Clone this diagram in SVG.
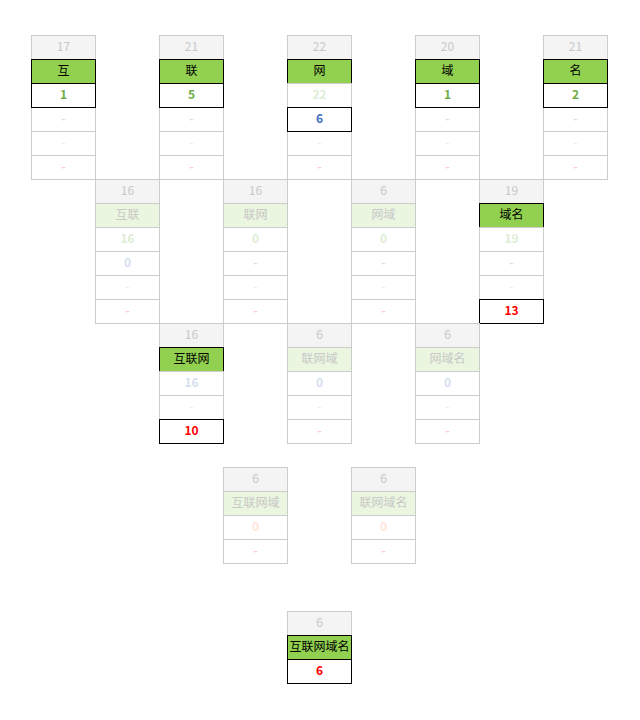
<svg xmlns="http://www.w3.org/2000/svg" width="640" height="720" viewBox="0 0 640 720">
<style>
rect{stroke-width:1}
.hd{fill:#f4f4f4;stroke:#cccccc}
.cl{fill:#ffffff;stroke:#cccccc}
.na{fill:#92d050;stroke:#000000}
.nf{fill:#ebf6e0;stroke:#cccccc}
.ac{fill:none;stroke:#000000}
text{font-family:"Noto Sans CJK SC","Noto Sans",sans-serif;font-size:12px;text-anchor:middle}
.th{fill:#c8c8c8}
.tn{fill:#000000}
.tf{fill:#c8c8c8}
.v{font-weight:bold}
.g{fill:#70ad47}
.b{fill:#4472c4}
.o{fill:#ff8c50}
.r{fill:#ff0000}
.f{opacity:0.22}
</style>
<rect width="640" height="720" fill="#ffffff"/>
<!-- Level 1 -->
<g id="n-hu">
<rect class="hd" x="31.5" y="35.5" width="64" height="24"/>
<rect class="na" x="31.5" y="59.5" width="64" height="24"/>
<rect class="cl" x="31.5" y="83.5" width="64" height="24"/>
<rect class="cl" x="31.5" y="107.5" width="64" height="24"/>
<rect class="cl" x="31.5" y="131.5" width="64" height="24"/>
<rect class="cl" x="31.5" y="155.5" width="64" height="24"/>
<rect class="ac" x="31.5" y="83.5" width="64" height="24"/>
<text class="th" x="63.5" y="51">17</text>
<text class="tn" x="63.5" y="75">互</text>
<text class="v g" x="63.5" y="99">1</text>
<text class="v b f" x="63.5" y="123">-</text>
<text class="v o f" x="63.5" y="147">-</text>
<text class="v r f" x="63.5" y="171">-</text>
</g>
<g id="n-lian">
<rect class="hd" x="159.5" y="35.5" width="64" height="24"/>
<rect class="na" x="159.5" y="59.5" width="64" height="24"/>
<rect class="cl" x="159.5" y="83.5" width="64" height="24"/>
<rect class="cl" x="159.5" y="107.5" width="64" height="24"/>
<rect class="cl" x="159.5" y="131.5" width="64" height="24"/>
<rect class="cl" x="159.5" y="155.5" width="64" height="24"/>
<rect class="ac" x="159.5" y="83.5" width="64" height="24"/>
<text class="th" x="191.5" y="51">21</text>
<text class="tn" x="191.5" y="75">联</text>
<text class="v g" x="191.5" y="99">5</text>
<text class="v b f" x="191.5" y="123">-</text>
<text class="v o f" x="191.5" y="147">-</text>
<text class="v r f" x="191.5" y="171">-</text>
</g>
<g id="n-wang">
<rect class="hd" x="287.5" y="35.5" width="64" height="24"/>
<rect class="na" x="287.5" y="59.5" width="64" height="24"/>
<rect class="cl" x="287.5" y="83.5" width="64" height="24"/>
<rect class="cl" x="287.5" y="107.5" width="64" height="24"/>
<rect class="cl" x="287.5" y="131.5" width="64" height="24"/>
<rect class="cl" x="287.5" y="155.5" width="64" height="24"/>
<rect class="ac" x="287.5" y="107.5" width="64" height="24"/>
<text class="th" x="319.5" y="51">22</text>
<text class="tn" x="319.5" y="75">网</text>
<text class="v g f" x="319.5" y="99">22</text>
<text class="v b" x="319.5" y="123">6</text>
<text class="v o f" x="319.5" y="147">-</text>
<text class="v r f" x="319.5" y="171">-</text>
</g>
<g id="n-yu">
<rect class="hd" x="415.5" y="35.5" width="64" height="24"/>
<rect class="na" x="415.5" y="59.5" width="64" height="24"/>
<rect class="cl" x="415.5" y="83.5" width="64" height="24"/>
<rect class="cl" x="415.5" y="107.5" width="64" height="24"/>
<rect class="cl" x="415.5" y="131.5" width="64" height="24"/>
<rect class="cl" x="415.5" y="155.5" width="64" height="24"/>
<rect class="ac" x="415.5" y="83.5" width="64" height="24"/>
<text class="th" x="447.5" y="51">20</text>
<text class="tn" x="447.5" y="75">域</text>
<text class="v g" x="447.5" y="99">1</text>
<text class="v b f" x="447.5" y="123">-</text>
<text class="v o f" x="447.5" y="147">-</text>
<text class="v r f" x="447.5" y="171">-</text>
</g>
<g id="n-ming">
<rect class="hd" x="543.5" y="35.5" width="64" height="24"/>
<rect class="na" x="543.5" y="59.5" width="64" height="24"/>
<rect class="cl" x="543.5" y="83.5" width="64" height="24"/>
<rect class="cl" x="543.5" y="107.5" width="64" height="24"/>
<rect class="cl" x="543.5" y="131.5" width="64" height="24"/>
<rect class="cl" x="543.5" y="155.5" width="64" height="24"/>
<rect class="ac" x="543.5" y="83.5" width="64" height="24"/>
<text class="th" x="575.5" y="51">21</text>
<text class="tn" x="575.5" y="75">名</text>
<text class="v g" x="575.5" y="99">2</text>
<text class="v b f" x="575.5" y="123">-</text>
<text class="v o f" x="575.5" y="147">-</text>
<text class="v r f" x="575.5" y="171">-</text>
</g>
<!-- Level 2 -->
<g id="n-hulian">
<rect class="hd" x="95.5" y="179.5" width="64" height="24"/>
<rect class="nf" x="95.5" y="203.5" width="64" height="24"/>
<rect class="cl" x="95.5" y="227.5" width="64" height="24"/>
<rect class="cl" x="95.5" y="251.5" width="64" height="24"/>
<rect class="cl" x="95.5" y="275.5" width="64" height="24"/>
<rect class="cl" x="95.5" y="299.5" width="64" height="24"/>
<text class="th" x="127.5" y="195">16</text>
<text class="tf" x="127.5" y="219">互联</text>
<text class="v g f" x="127.5" y="243">16</text>
<text class="v b f" x="127.5" y="267">0</text>
<text class="v o f" x="127.5" y="291">-</text>
<text class="v r f" x="127.5" y="315">-</text>
</g>
<g id="n-lianwang">
<rect class="hd" x="223.5" y="179.5" width="64" height="24"/>
<rect class="nf" x="223.5" y="203.5" width="64" height="24"/>
<rect class="cl" x="223.5" y="227.5" width="64" height="24"/>
<rect class="cl" x="223.5" y="251.5" width="64" height="24"/>
<rect class="cl" x="223.5" y="275.5" width="64" height="24"/>
<rect class="cl" x="223.5" y="299.5" width="64" height="24"/>
<text class="th" x="255.5" y="195">16</text>
<text class="tf" x="255.5" y="219">联网</text>
<text class="v g f" x="255.5" y="243">0</text>
<text class="v b f" x="255.5" y="267">-</text>
<text class="v o f" x="255.5" y="291">-</text>
<text class="v r f" x="255.5" y="315">-</text>
</g>
<g id="n-wangyu">
<rect class="hd" x="351.5" y="179.5" width="64" height="24"/>
<rect class="nf" x="351.5" y="203.5" width="64" height="24"/>
<rect class="cl" x="351.5" y="227.5" width="64" height="24"/>
<rect class="cl" x="351.5" y="251.5" width="64" height="24"/>
<rect class="cl" x="351.5" y="275.5" width="64" height="24"/>
<rect class="cl" x="351.5" y="299.5" width="64" height="24"/>
<text class="th" x="383.5" y="195">6</text>
<text class="tf" x="383.5" y="219">网域</text>
<text class="v g f" x="383.5" y="243">0</text>
<text class="v b f" x="383.5" y="267">-</text>
<text class="v o f" x="383.5" y="291">-</text>
<text class="v r f" x="383.5" y="315">-</text>
</g>
<g id="n-yuming">
<rect class="hd" x="479.5" y="179.5" width="64" height="24"/>
<rect class="na" x="479.5" y="203.5" width="64" height="24"/>
<rect class="cl" x="479.5" y="227.5" width="64" height="24"/>
<rect class="cl" x="479.5" y="251.5" width="64" height="24"/>
<rect class="cl" x="479.5" y="275.5" width="64" height="24"/>
<rect class="cl" x="479.5" y="299.5" width="64" height="24"/>
<rect class="ac" x="479.5" y="299.5" width="64" height="24"/>
<text class="th" x="511.5" y="195">19</text>
<text class="tn" x="511.5" y="219">域名</text>
<text class="v g f" x="511.5" y="243">19</text>
<text class="v b f" x="511.5" y="267">-</text>
<text class="v o f" x="511.5" y="291">-</text>
<text class="v r" x="511.5" y="315">13</text>
</g>
<!-- Level 3 -->
<g id="n-hulianwang">
<rect class="hd" x="159.5" y="323.5" width="64" height="24"/>
<rect class="na" x="159.5" y="347.5" width="64" height="24"/>
<rect class="cl" x="159.5" y="371.5" width="64" height="24"/>
<rect class="cl" x="159.5" y="395.5" width="64" height="24"/>
<rect class="cl" x="159.5" y="419.5" width="64" height="24"/>
<rect class="ac" x="159.5" y="419.5" width="64" height="24"/>
<text class="th" x="191.5" y="339">16</text>
<text class="tn" x="191.5" y="363">互联网</text>
<text class="v b f" x="191.5" y="387">16</text>
<text class="v o f" x="191.5" y="411">-</text>
<text class="v r" x="191.5" y="435">10</text>
</g>
<g id="n-lianwangyu">
<rect class="hd" x="287.5" y="323.5" width="64" height="24"/>
<rect class="nf" x="287.5" y="347.5" width="64" height="24"/>
<rect class="cl" x="287.5" y="371.5" width="64" height="24"/>
<rect class="cl" x="287.5" y="395.5" width="64" height="24"/>
<rect class="cl" x="287.5" y="419.5" width="64" height="24"/>
<text class="th" x="319.5" y="339">6</text>
<text class="tf" x="319.5" y="363">联网域</text>
<text class="v b f" x="319.5" y="387">0</text>
<text class="v o f" x="319.5" y="411">-</text>
<text class="v r f" x="319.5" y="435">-</text>
</g>
<g id="n-wangyuming">
<rect class="hd" x="415.5" y="323.5" width="64" height="24"/>
<rect class="nf" x="415.5" y="347.5" width="64" height="24"/>
<rect class="cl" x="415.5" y="371.5" width="64" height="24"/>
<rect class="cl" x="415.5" y="395.5" width="64" height="24"/>
<rect class="cl" x="415.5" y="419.5" width="64" height="24"/>
<text class="th" x="447.5" y="339">6</text>
<text class="tf" x="447.5" y="363">网域名</text>
<text class="v b f" x="447.5" y="387">0</text>
<text class="v o f" x="447.5" y="411">-</text>
<text class="v r f" x="447.5" y="435">-</text>
</g>
<!-- Level 4 -->
<g id="n-hulianwangyu">
<rect class="hd" x="223.5" y="467.5" width="64" height="24"/>
<rect class="nf" x="223.5" y="491.5" width="64" height="24"/>
<rect class="cl" x="223.5" y="515.5" width="64" height="24"/>
<rect class="cl" x="223.5" y="539.5" width="64" height="24"/>
<text class="th" x="255.5" y="483">6</text>
<text class="tf" x="255.5" y="507">互联网域</text>
<text class="v o f" x="255.5" y="531">0</text>
<text class="v r f" x="255.5" y="555">-</text>
</g>
<g id="n-lianwangyuming">
<rect class="hd" x="351.5" y="467.5" width="64" height="24"/>
<rect class="nf" x="351.5" y="491.5" width="64" height="24"/>
<rect class="cl" x="351.5" y="515.5" width="64" height="24"/>
<rect class="cl" x="351.5" y="539.5" width="64" height="24"/>
<text class="th" x="383.5" y="483">6</text>
<text class="tf" x="383.5" y="507">联网域名</text>
<text class="v o f" x="383.5" y="531">0</text>
<text class="v r f" x="383.5" y="555">-</text>
</g>
<!-- Level 5 -->
<g id="n-hulianwangyuming">
<rect class="hd" x="287.5" y="611.5" width="64" height="24"/>
<rect class="na" x="287.5" y="635.5" width="64" height="24"/>
<rect class="cl" x="287.5" y="659.5" width="64" height="24"/>
<rect class="ac" x="287.5" y="659.5" width="64" height="24"/>
<text class="th" x="319.5" y="627">6</text>
<text class="tn" x="319.5" y="651">互联网域名</text>
<text class="v r" x="319.5" y="675">6</text>
</g>
<g id="connectors"></g>
</svg>
